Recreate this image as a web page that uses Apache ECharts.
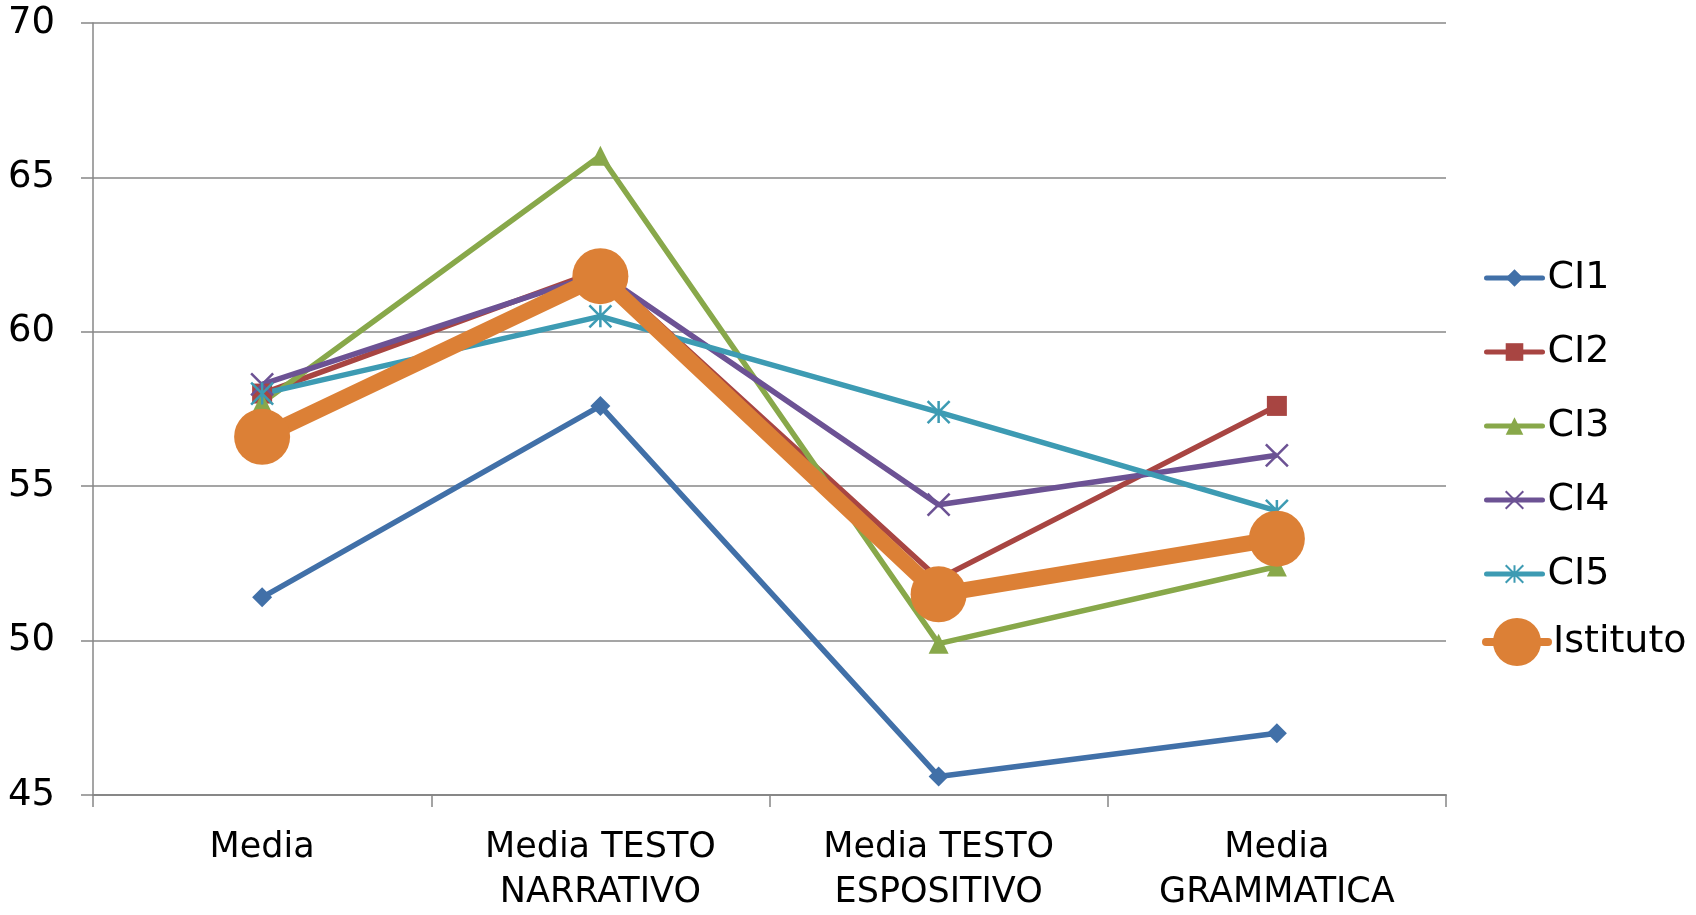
<!DOCTYPE html>
<html>
<head>
<meta charset="utf-8">
<script src="https://cdn.jsdelivr.net/npm/echarts@6/dist/echarts.min.js"></script>
<style>html,body{margin:0;padding:0;background:#fff}#c{width:1696px;height:915px}</style>
</head>
<body>
<div id="c"></div>
<script>
const categories = ['Media', 'Media TESTO\nNARRATIVO', 'Media TESTO\nESPOSITIVO', 'Media\nGRAMMATICA'];
const yTicks = [45, 50, 55, 60, 65, 70];
const seriesNames = ['CI1', 'CI2', 'CI3', 'CI4', 'CI5', 'Istituto'];
const ci1 = [51.4, 57.6, 45.6, 47.0];
const ci2 = [58.0, 62.0, 52.0, 57.6];
const ci3 = [57.7, 65.7, 49.9, 52.4];
const ci4 = [58.3, 61.9, 54.4, 56.0];
const ci5 = [58.0, 60.5, 57.4, 54.2];
const istituto = [56.6, 61.8, 51.5, 53.3];

const colors = ['#4170A8', '#A84542', '#88A84A', '#6C5294', '#3D9BB3', '#DC8036'];
const FONT = 'DejaVu Sans';
const X_PATH = 'path://M0,0L10,10M10,0L0,10';
const STAR_PATH = 'path://M5,0L5,10M0,0L10,10M10,0L0,10';

function thin(name, data, color, symbol, size, stroke) {
  return {
    name, type: 'line', data,
    symbol, symbolSize: size,
    lineStyle: { color, width: 5.5 },
    itemStyle: stroke ? { color: color, borderColor: color, borderWidth: 2.5 } : { color: color, borderWidth: 0 },
    animation: false
  };
}

const chart = echarts.init(document.getElementById('c'));
chart.setOption({
  animation: false,
  color: colors,
  grid: { left: 93, right: 250, top: 23, bottom: 113, containLabel: false },
  xAxis: {
    type: 'category', data: categories, boundaryGap: true,
    axisLine: { lineStyle: { color: '#878787', width: 2 } },
    axisTick: { show: true, length: 12, lineStyle: { color: '#878787', width: 1.5 } },
    axisLabel: { fontFamily: FONT, fontSize: 35, color: '#000', margin: 30, lineHeight: 45 }
  },
  yAxis: {
    type: 'value', min: 45, max: 70, interval: 5,
    axisLine: { show: true, lineStyle: { color: '#878787', width: 1.5 } },
    axisTick: { show: true, length: 12, lineStyle: { color: '#878787', width: 1.5 } },
    splitLine: { lineStyle: { color: '#878787', width: 1.5 } },
    axisLabel: { fontFamily: FONT, fontSize: 37, color: '#000', margin: 38,
      formatter: v => yTicks.includes(v) ? String(v) : '' }
  },
  legend: [
    {
      data: seriesNames.slice(0, 5), orient: 'vertical', left: 1479, top: 253,
      itemWidth: 56, itemHeight: 22, itemGap: 34,
      lineStyle: { width: 5, cap: 'round' },
      textStyle: { fontFamily: FONT, fontSize: 38, color: '#000', lineHeight: 40 }
    },
    {
      data: ['Istituto'], orient: 'vertical', left: 1477, top: 613,
      itemWidth: 62, itemHeight: 60, itemGap: 0,
      lineStyle: { width: 8, cap: 'round' },
      textStyle: { fontFamily: FONT, fontSize: 38, color: '#000' }
    }
  ],
  series: [
    thin('CI1', ci1, colors[0], 'diamond', 20, false),
    thin('CI2', ci2, colors[1], 'rect', 20, false),
    thin('CI3', ci3, colors[2], 'triangle', 20, false),
    thin('CI4', ci4, colors[3], X_PATH, 22, true),
    thin('CI5', ci5, colors[4], STAR_PATH, 22, true),
    {
      name: 'Istituto', type: 'line', data: istituto,
      symbol: 'circle', symbolSize: 56,
      lineStyle: { color: colors[5], width: 16 },
      itemStyle: { color: colors[5], borderWidth: 0 },
      animation: false
    }
  ]
});
</script>
</body>
</html>
